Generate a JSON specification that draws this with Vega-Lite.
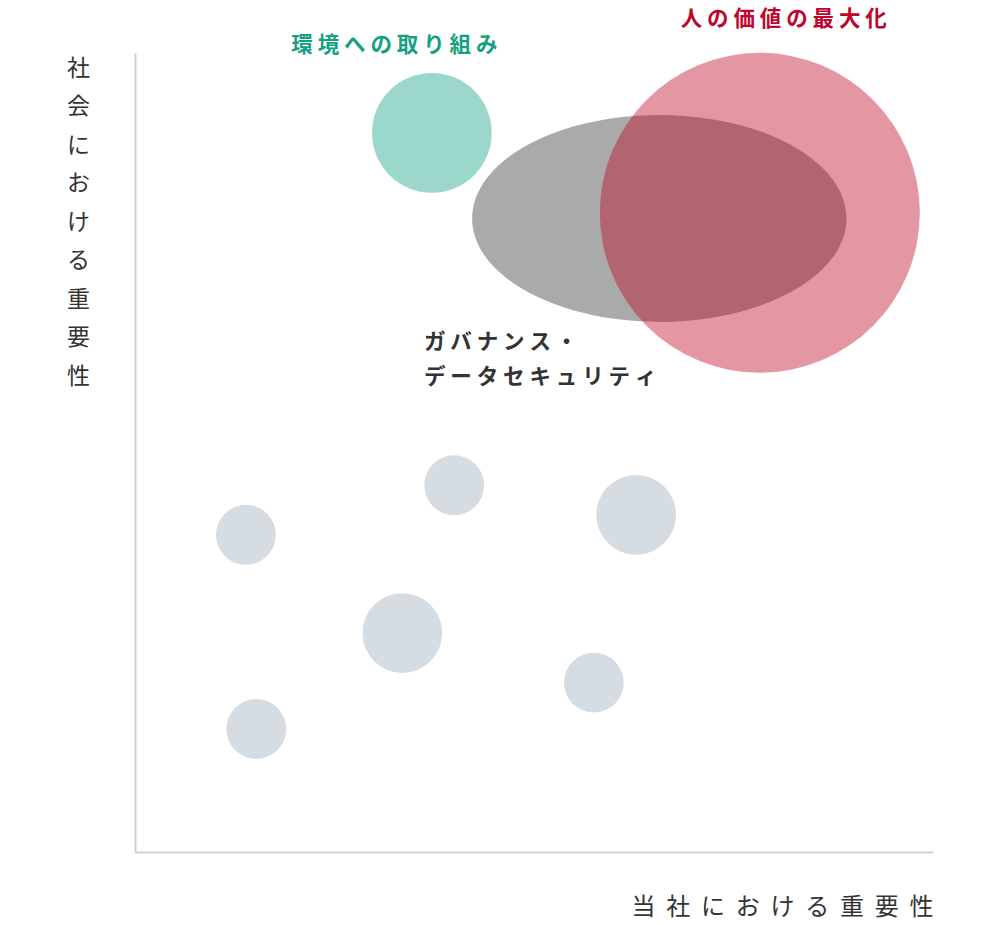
{
  "$schema": "https://vega.github.io/schema/vega-lite/v6.json",
  "width": 798,
  "height": 799,
  "autosize": {"type": "none"},
  "padding": {"left": 135, "top": 53, "right": 67, "bottom": 73},
  "background": "white",
  "config": {
    "view": {"stroke": null},
    "font": "Noto Sans CJK JP",
    "axis": {
      "domainColor": "#c9d3dc",
      "domainWidth": 2,
      "ticks": false,
      "labels": false,
      "grid": false,
      "titleFont": "Noto Sans CJK JP",
      "titleFontWeight": "normal",
      "titleColor": "#333333"
    }
  },
  "datasets": {
    "bubbles": [
      {"name": "a", "group": "other", "x": 13.9, "y": 39.7, "d": 7.5},
      {"name": "b", "group": "other", "x": 40.0, "y": 45.9, "d": 7.5},
      {"name": "c", "group": "other", "x": 62.8, "y": 42.2, "d": 10.0},
      {"name": "d", "group": "other", "x": 33.5, "y": 27.4, "d": 10.0},
      {"name": "e", "group": "other", "x": 57.5, "y": 21.2, "d": 7.5},
      {"name": "f", "group": "other", "x": 15.2, "y": 15.4, "d": 7.5},
      {"name": "環境への取り組み", "group": "env", "x": 37.2, "y": 90.0, "d": 15.0},
      {"name": "人の価値の最大化", "group": "people", "x": 78.3, "y": 80.0, "d": 40.1}
    ],
    "governance": [
      {"name": "ガバナンス・データセキュリティ", "group": "gov", "x": 65.7, "y": 79.3, "d": 46.9}
    ],
    "titles": [
      {"text": "環 境 へ の 取 り 組 み", "group": "env", "x": 32.5, "y": 100.9},
      {"text": "人 の 価 値 の 最 大 化", "group": "people", "x": 81.3, "y": 104.1}
    ],
    "govlabel": [
      {"text": "ガ バ ナ ン ス ・", "group": "gov", "x": 36.2, "y": 63.7},
      {"text": "デ ー タ セ キ ュ リ テ ィ", "group": "gov", "x": 36.2, "y": 59.3}
    ]
  },
  "layer": [
    {
      "data": {"name": "governance"},
      "mark": {
        "type": "point",
        "filled": true,
        "opacity": 1,
        "shape": "M-1,0 A1,0.553 0 1,0 1,0 A1,0.553 0 1,0 -1,0 Z",
        "color": "#aaaaaa"
      },
      "encoding": {
        "x": {"field": "x", "type": "quantitative", "scale": {"domain": [0, 100]}, "axis": {"title": "当\u00a0\u00a0社\u00a0\u00a0に\u00a0\u00a0お\u00a0\u00a0け\u00a0\u00a0る\u00a0\u00a0重\u00a0\u00a0要\u00a0\u00a0性", "titleFontSize": 24, "titleAlign": "right", "titleX": 798, "titleY": 55, "titleBaseline": "middle"}},
        "y": {"field": "y", "type": "quantitative", "scale": {"domain": [0, 100]}, "axis": {"title": ["社", "会", "に", "お", "け", "る", "重", "要", "性"], "titleFontSize": 23, "titleAngle": 0, "titleAlign": "center", "titleBaseline": "top", "titleLineHeight": 38.5, "titleX": -57, "titleY": 4}},
        "size": {"field": "d", "type": "quantitative", "scale": {"type": "pow", "exponent": 2, "domain": [0, 100], "range": [0, 636804]}, "legend": null}
      }
    },
    {
      "data": {"name": "bubbles"},
      "mark": {"type": "circle", "opacity": 1},
      "encoding": {
        "x": {"field": "x", "type": "quantitative"},
        "y": {"field": "y", "type": "quantitative"},
        "size": {"field": "d", "type": "quantitative", "legend": null},
        "color": {"field": "group", "type": "nominal", "scale": {"domain": ["other", "env", "people"], "range": ["#d5dde3", "#9bd8cb", "rgba(192,0,32,0.41)"]}, "legend": null}
      }
    },
    {
      "data": {"name": "titles"},
      "mark": {"type": "text", "fontSize": 21.5, "fontWeight": "bold", "baseline": "middle", "align": "center", "font": "Noto Sans CJK JP"},
      "encoding": {
        "x": {"field": "x", "type": "quantitative"},
        "y": {"field": "y", "type": "quantitative"},
        "text": {"field": "text"},
        "color": {"field": "group", "type": "nominal", "scale": {"domain": ["env", "people", "gov"], "range": ["#15a07f", "#c0052d", "#333333"]}, "legend": null}
      }
    },
    {
      "data": {"name": "govlabel"},
      "mark": {"type": "text", "fontSize": 21.5, "fontWeight": "bold", "baseline": "middle", "align": "left", "font": "Noto Sans CJK JP", "color": "#333333"},
      "encoding": {
        "x": {"field": "x", "type": "quantitative"},
        "y": {"field": "y", "type": "quantitative"},
        "text": {"field": "text"}
      }
    }
  ],
  "resolve": {"scale": {"color": "independent"}}
}
